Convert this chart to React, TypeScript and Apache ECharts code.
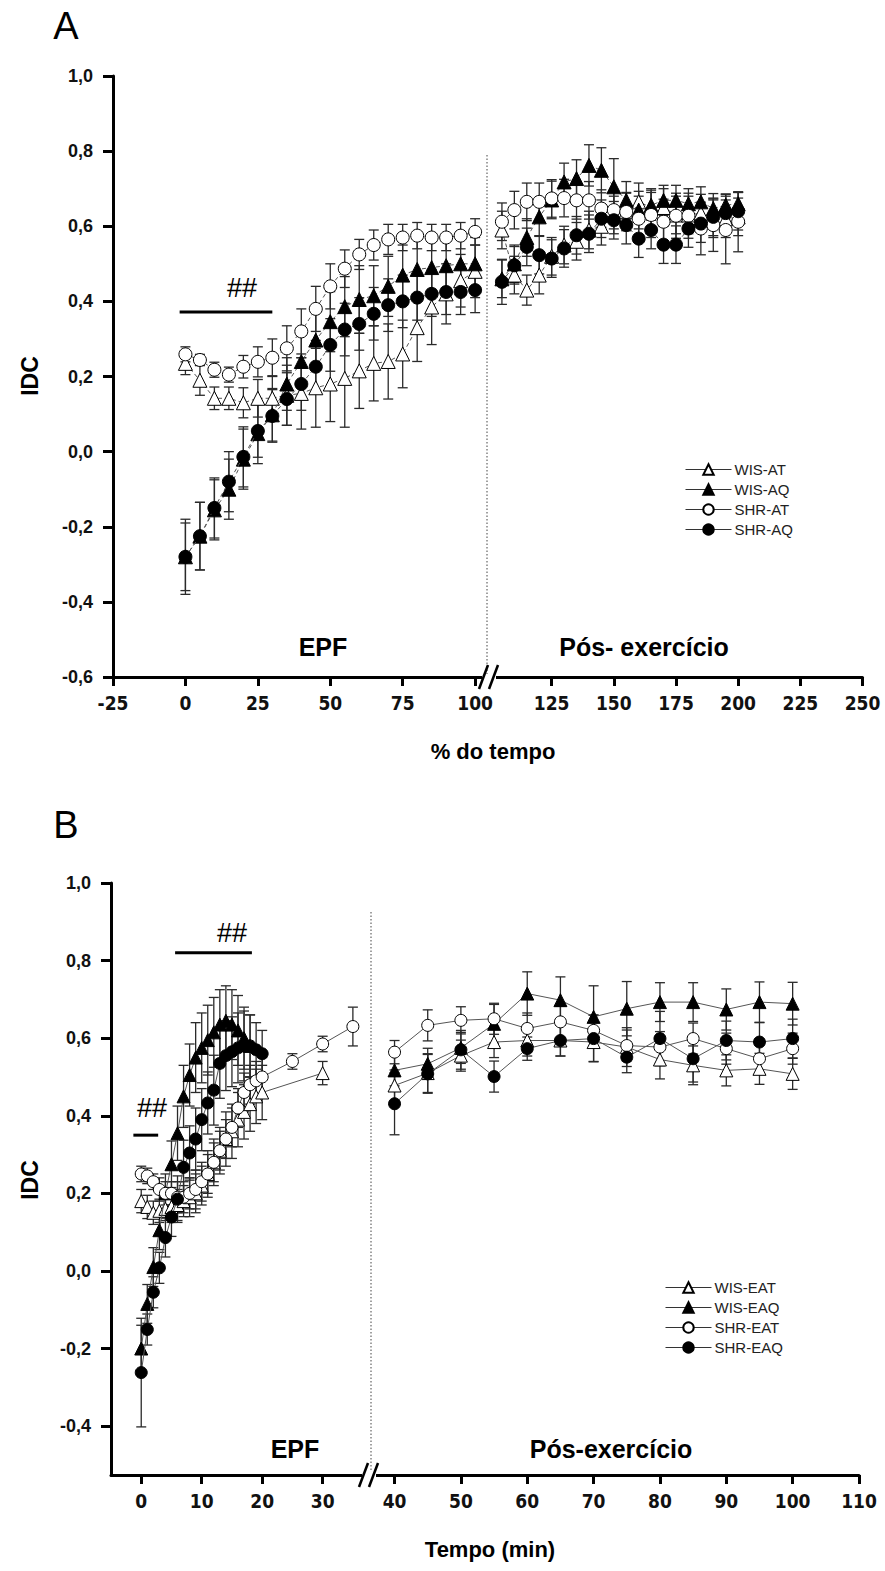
import React, { useEffect, useRef } from 'react';
import * as echarts from 'echarts';

// ---------- Panel A data (% do tempo) ----------
const xA_pre = [0, 5, 10, 15, 20, 25, 30, 35, 40, 45, 50, 55, 60, 65, 70, 75, 80, 85, 90, 95, 100];
const xA_post = [105, 110, 115, 120, 125, 130, 135, 140, 145, 150, 155, 160, 165, 170, 175, 180, 185, 190, 195, 200];

const wisAT_pre = [0.235, 0.19, 0.142, 0.142, 0.13, 0.142, 0.142, 0.15, 0.155, 0.17, 0.18, 0.195, 0.215, 0.235, 0.24, 0.26, 0.33, 0.385, 0.42, 0.455, 0.48];
const wisAT_pre_err = [0.03, 0.04, 0.03, 0.03, 0.04, 0.05, 0.06, 0.08, 0.095, 0.105, 0.1, 0.13, 0.1, 0.1, 0.1, 0.09, 0.09, 0.1, 0.08, 0.07, 0.07];
const wisAQ_pre = [-0.28, -0.225, -0.155, -0.1, -0.02, 0.048, 0.098, 0.18, 0.24, 0.297, 0.346, 0.386, 0.405, 0.415, 0.44, 0.47, 0.485, 0.49, 0.495, 0.5, 0.5];
const wisAQ_pre_err = [0.1, 0.09, 0.08, 0.08, 0.08, 0.08, 0.07, 0.07, 0.07, 0.08, 0.08, 0.08, 0.09, 0.08, 0.08, 0.08, 0.08, 0.07, 0.07, 0.07, 0.07];
const shrAT_pre = [0.259, 0.244, 0.218, 0.205, 0.226, 0.239, 0.25, 0.275, 0.32, 0.38, 0.44, 0.487, 0.525, 0.55, 0.565, 0.57, 0.575, 0.57, 0.57, 0.575, 0.585];
const shrAT_pre_err = [0.02, 0.015, 0.02, 0.02, 0.03, 0.04, 0.05, 0.06, 0.06, 0.06, 0.06, 0.05, 0.04, 0.04, 0.04, 0.035, 0.035, 0.035, 0.035, 0.035, 0.035];
const shrAQ_pre = [-0.28, -0.225, -0.15, -0.08, -0.014, 0.055, 0.095, 0.14, 0.18, 0.226, 0.284, 0.325, 0.34, 0.367, 0.39, 0.4, 0.41, 0.42, 0.425, 0.425, 0.43];
const shrAQ_pre_err = [0.09, 0.09, 0.08, 0.08, 0.08, 0.07, 0.07, 0.07, 0.07, 0.07, 0.07, 0.07, 0.07, 0.07, 0.07, 0.07, 0.06, 0.06, 0.06, 0.06, 0.06];

const wisAT_post = [0.59, 0.47, 0.43, 0.47, 0.52, 0.55, 0.56, 0.59, 0.6, 0.63, 0.64, 0.665, 0.65, 0.65, 0.63, 0.63, 0.635, 0.62, 0.62, 0.625];
const wisAT_post_err = [0.05, 0.05, 0.04, 0.05, 0.05, 0.05, 0.05, 0.05, 0.05, 0.05, 0.05, 0.05, 0.05, 0.05, 0.05, 0.05, 0.05, 0.05, 0.05, 0.05];
const wisAQ_post = [0.46, 0.5, 0.57, 0.625, 0.67, 0.718, 0.727, 0.762, 0.749, 0.705, 0.669, 0.643, 0.656, 0.669, 0.669, 0.66, 0.665, 0.647, 0.656, 0.66];
const wisAQ_post_err = [0.05, 0.05, 0.05, 0.05, 0.05, 0.05, 0.05, 0.055, 0.06, 0.075, 0.05, 0.05, 0.04, 0.04, 0.04, 0.04, 0.04, 0.04, 0.03, 0.03];
const shrAT_post = [0.612, 0.643, 0.665, 0.665, 0.674, 0.675, 0.669, 0.669, 0.647, 0.643, 0.638, 0.62, 0.63, 0.612, 0.628, 0.628, 0.594, 0.603, 0.59, 0.612];
const shrAT_post_err = [0.05, 0.05, 0.05, 0.05, 0.05, 0.05, 0.05, 0.05, 0.05, 0.05, 0.05, 0.06, 0.06, 0.06, 0.06, 0.06, 0.07, 0.07, 0.09, 0.08];
const shrAQ_post = [0.452, 0.496, 0.545, 0.523, 0.514, 0.541, 0.576, 0.58, 0.62, 0.616, 0.603, 0.567, 0.59, 0.551, 0.551, 0.594, 0.607, 0.625, 0.635, 0.64];
const shrAQ_post_err = [0.06, 0.05, 0.05, 0.05, 0.05, 0.05, 0.05, 0.05, 0.05, 0.05, 0.05, 0.05, 0.05, 0.05, 0.05, 0.05, 0.05, 0.05, 0.05, 0.05];

// ---------- Panel B data (Tempo, min) ----------
const xB_wisEAT_pre = [0, 1, 2, 3, 4, 5, 6, 7, 8, 9, 10, 11, 12, 13, 14, 15, 16, 17, 18, 19, 20, 30];
const wisEAT_pre = [0.18, 0.165, 0.15, 0.155, 0.16, 0.165, 0.17, 0.18, 0.19, 0.2, 0.22, 0.25, 0.28, 0.31, 0.34, 0.36, 0.39, 0.41, 0.43, 0.45, 0.46, 0.51];
const wisEAT_pre_err = [0.03, 0.03, 0.03, 0.03, 0.03, 0.04, 0.04, 0.04, 0.05, 0.05, 0.05, 0.06, 0.06, 0.06, 0.07, 0.07, 0.07, 0.07, 0.07, 0.07, 0.07, 0.03];
const xB_wisEAQ_pre = [0, 1, 2, 3, 4, 5, 6, 7, 8, 9, 10, 11, 12, 13, 14, 15, 16, 17, 18];
const wisEAQ_pre = [-0.2, -0.085, 0.01, 0.105, 0.2, 0.275, 0.355, 0.45, 0.505, 0.55, 0.575, 0.595, 0.615, 0.635, 0.645, 0.635, 0.62, 0.6, 0.58];
const wisEAQ_pre_err = [0.06, 0.05, 0.05, 0.05, 0.05, 0.06, 0.07, 0.08, 0.08, 0.09, 0.09, 0.09, 0.09, 0.09, 0.09, 0.09, 0.09, 0.08, 0.08];
const xB_shrEAT_pre = [0, 1, 2, 3, 4, 5, 6, 7, 8, 9, 10, 11, 12, 13, 14, 15, 16, 17, 18, 19, 20, 25, 30, 35];
const shrEAT_pre = [0.25, 0.245, 0.23, 0.21, 0.2, 0.2, 0.19, 0.19, 0.2, 0.21, 0.23, 0.25, 0.28, 0.31, 0.34, 0.37, 0.42, 0.46, 0.48, 0.49, 0.5, 0.54, 0.585, 0.63];
const shrEAT_pre_err = [0.02, 0.02, 0.02, 0.03, 0.03, 0.03, 0.04, 0.04, 0.04, 0.05, 0.05, 0.05, 0.05, 0.05, 0.05, 0.05, 0.05, 0.05, 0.05, 0.05, 0.05, 0.02, 0.02, 0.05];
const xB_shrEAQ_pre = [0, 1, 2, 3, 4, 5, 6, 7, 8, 9, 10, 11, 12, 13, 14, 15, 16, 17, 18, 19, 20];
const shrEAQ_pre = [-0.262, -0.151, -0.055, 0.008, 0.086, 0.139, 0.185, 0.267, 0.304, 0.34, 0.39, 0.433, 0.466, 0.535, 0.555, 0.565, 0.575, 0.58, 0.58, 0.57, 0.56];
const shrEAQ_pre_err = [0.14, 0.04, 0.04, 0.04, 0.05, 0.05, 0.06, 0.07, 0.07, 0.08, 0.08, 0.08, 0.09, 0.09, 0.09, 0.09, 0.09, 0.09, 0.08, 0.07, 0.06];

const xB_post = [40, 45, 50, 55, 60, 65, 70, 75, 80, 85, 90, 95, 100];
const wisEAT_post = [0.478, 0.51, 0.555, 0.59, 0.594, 0.594, 0.59, 0.577, 0.545, 0.53, 0.517, 0.521, 0.508];
const wisEAT_post_err = [0.04, 0.05, 0.04, 0.04, 0.04, 0.04, 0.05, 0.05, 0.05, 0.05, 0.04, 0.04, 0.04];
const wisEAQ_post = [0.517, 0.534, 0.575, 0.637, 0.715, 0.698, 0.655, 0.676, 0.693, 0.693, 0.674, 0.693, 0.689];
const wisEAQ_post_err = [0.04, 0.04, 0.04, 0.05, 0.056, 0.06, 0.08, 0.07, 0.05, 0.05, 0.053, 0.052, 0.055];
const shrEAT_post = [0.564, 0.633, 0.646, 0.65, 0.625, 0.642, 0.62, 0.581, 0.577, 0.599, 0.573, 0.547, 0.573];
const shrEAT_post_err = [0.03, 0.04, 0.035, 0.04, 0.04, 0.04, 0.04, 0.04, 0.04, 0.04, 0.04, 0.04, 0.04];
const shrEAQ_post = [0.431, 0.508, 0.57, 0.501, 0.573, 0.594, 0.599, 0.551, 0.599, 0.547, 0.594, 0.59, 0.599];
const shrEAQ_post_err = [0.08, 0.05, 0.05, 0.04, 0.03, 0.04, 0.06, 0.04, 0.07, 0.06, 0.05, 0.05, 0.05];

// ---------- significance bars (x from, x to, y) ----------
const sigA = [[-2, 0.372], [30, 0.372]];
const sigB1 = [[5.6, 0.82], [18.3, 0.82]];
const sigB2 = [[-1.3, 0.35], [2.8, 0.35]];

// ---------- ticks ----------
const ticksA_pre = [-25, 0, 25, 50, 75, 100];
const ticksA_post = [125, 150, 175, 200, 225, 250];
const ticksA_y = [-0.6, -0.4, -0.2, 0, 0.2, 0.4, 0.6, 0.8, 1.0];
const ticksB_pre = [0, 10, 20, 30];
const ticksB_post = [40, 50, 60, 70, 80, 90, 100, 110];
const ticksB_y = [-0.4, -0.2, 0, 0.2, 0.4, 0.6, 0.8, 1.0];

const SANS = "'Liberation Sans', Arial, Helvetica, sans-serif";
const NARROW = "'Liberation Sans Narrow', 'Arial Narrow', 'DejaVu Sans Condensed', 'Liberation Sans', sans-serif";

const zip = (xs: number[], ys: number[]) => xs.map((x, i) => [x, ys[i]]);
const zip3 = (xs: number[], ys: number[], es: number[]) => xs.map((x, i) => [x, ys[i], es[i]]);
const fmt = (v: number) => (Math.abs(v) < 1e-9 ? 0 : v).toFixed(1).replace('.', ',');

export default function App() {
  const ref = useRef<HTMLDivElement>(null);
  useEffect(() => {
    if (!ref.current) return;
    const chart = echarts.init(ref.current, undefined, { renderer: 'svg' });

    const errRender = (params: any, api: any) => {
      const x = api.value(0), y = api.value(1), e = api.value(2);
      const hi = api.coord([x, y + e]);
      const lo = api.coord([x, y - e]);
      const cap = 5;
      const style = { stroke: '#2a2a2a', lineWidth: 1.3 };
      return {
        type: 'group',
        children: [
          { type: 'line', shape: { x1: hi[0], y1: hi[1], x2: lo[0], y2: lo[1] }, style },
          { type: 'line', shape: { x1: hi[0] - cap, y1: hi[1], x2: hi[0] + cap, y2: hi[1] }, style },
          { type: 'line', shape: { x1: lo[0] - cap, y1: lo[1], x2: lo[0] + cap, y2: lo[1] }, style },
        ],
      };
    };

    const series: any[] = [];
    const addGroup = (name: string, idx: number, data: number[][], err: number[][], symbol: string, filled: boolean, dashed: boolean, z: number, size: number) => {
      series.push({
        type: 'custom', name: name + '_err', xAxisIndex: idx, yAxisIndex: idx,
        renderItem: errRender, data: err, encode: { x: 0, y: 1 }, z: 2, silent: true,
      });
      series.push({
        type: 'line', name, xAxisIndex: idx, yAxisIndex: idx, data,
        symbol, symbolSize: symbol === 'triangle' ? size + 1 : size, showAllSymbol: true,
        lineStyle: { color: '#555', width: 1, type: dashed ? [4, 3] : 'solid' },
        itemStyle: filled ? { color: '#000', borderColor: '#000', borderWidth: 1 } : { color: '#fff', borderColor: '#000', borderWidth: 1 },
        z: z, silent: true,
      });
    };

    // Panel A
    const A = [
      ['WIS-AT', wisAT_pre, wisAT_pre_err, wisAT_post, wisAT_post_err, 'triangle', false],
      ['WIS-AQ', wisAQ_pre, wisAQ_pre_err, wisAQ_post, wisAQ_post_err, 'triangle', true],
      ['SHR-AT', shrAT_pre, shrAT_pre_err, shrAT_post, shrAT_post_err, 'circle', false],
      ['SHR-AQ', shrAQ_pre, shrAQ_pre_err, shrAQ_post, shrAQ_post_err, 'circle', true],
    ] as any[];
    A.forEach((g, k) => {
      addGroup(g[0], 0, zip(xA_pre, g[1]), zip3(xA_pre, g[1], g[2]), g[5], g[6], true, 3 + k, 13);
      addGroup(g[0], 1, zip(xA_post, g[3]), zip3(xA_post, g[3], g[4]), g[5], g[6], true, 3 + k, 13);
    });

    // Panel B
    const B = [
      ['WIS-EAT', xB_wisEAT_pre, wisEAT_pre, wisEAT_pre_err, wisEAT_post, wisEAT_post_err, 'triangle', false],
      ['WIS-EAQ', xB_wisEAQ_pre, wisEAQ_pre, wisEAQ_pre_err, wisEAQ_post, wisEAQ_post_err, 'triangle', true],
      ['SHR-EAT', xB_shrEAT_pre, shrEAT_pre, shrEAT_pre_err, shrEAT_post, shrEAT_post_err, 'circle', false],
      ['SHR-EAQ', xB_shrEAQ_pre, shrEAQ_pre, shrEAQ_pre_err, shrEAQ_post, shrEAQ_post_err, 'circle', true],
    ] as any[];
    B.forEach((g, k) => {
      addGroup(g[0], 2, zip(g[1], g[2]), zip3(g[1], g[2], g[3]), g[6], g[7], false, 3 + k, 12);
      addGroup(g[0], 3, zip(xB_post, g[4]), zip3(xB_post, g[4], g[5]), g[6], g[7], false, 3 + k, 12);
    });

    const sigLine = (idx: number, data: number[][]) => ({
      type: 'line', name: 'sig' + idx + data[0][0], xAxisIndex: idx, yAxisIndex: idx, data,
      symbol: 'none', lineStyle: { color: '#000', width: 3 }, z: 10, silent: true,
    });
    series.push(sigLine(0, sigA), sigLine(2, sigB1), sigLine(2, sigB2));

    const xAxisBase = (min: number, max: number, ticks: number[], idx: number) => ({
      type: 'value', gridIndex: idx, min, max,
      axisLine: { show: true, onZero: false, lineStyle: { color: '#000', width: 3 } },
      axisTick: { show: true, customValues: ticks, length: 9, lineStyle: { color: '#000', width: 3 } },
      axisLabel: {
        show: true, customValues: ticks, margin: 16, color: '#111',
        fontFamily: NARROW, fontWeight: 'bold', fontSize: 19,
      },
      splitLine: { show: false },
    });
    const yAxisMain = (min: number, max: number, ticks: number[], idx: number) => ({
      type: 'value', gridIndex: idx, min, max,
      axisLine: { show: true, onZero: false, lineStyle: { color: '#000', width: 3 } },
      axisTick: { show: true, customValues: ticks, length: 10, lineStyle: { color: '#000', width: 3 } },
      axisLabel: {
        show: true, customValues: ticks, margin: 20, color: '#111',
        fontFamily: SANS, fontWeight: 'bold', fontSize: 18, formatter: fmt,
      },
      splitLine: { show: false },
    });
    const yAxisHidden = (min: number, max: number, idx: number) => ({
      type: 'value', gridIndex: idx, min, max, show: false, axisLine: { onZero: false }, splitLine: { show: false },
    });

    const title = (text: string, x: number, y: number, size: number, weight = 'bold', rot = 0, family = SANS) => ({
      type: 'text', x, y, rotation: rot,
      style: { text, fontSize: size, fontWeight: weight, fontFamily: family, fill: '#000', align: 'center', verticalAlign: 'middle' },
      z: 20,
    });
    const dotted = (x: number, y1: number, y2: number) => ({
      type: 'line', shape: { x1: x, y1, x2: x, y2 }, style: { stroke: '#444', lineWidth: 1, lineDash: [1.5, 2] }, z: 1,
    });
    const brk = (cx: number, cy: number) => [
      { type: 'rect', shape: { x: cx - 8, y: cy - 3, width: 14, height: 6 }, style: { fill: '#fff' }, z: 30 },
      { type: 'line', shape: { x1: cx - 11, y1: cy + 12, x2: cx - 2, y2: cy - 12 }, style: { stroke: '#000', lineWidth: 2.5 }, z: 31 },
      { type: 'line', shape: { x1: cx - 1, y1: cy + 12, x2: cx + 8, y2: cy - 12 }, style: { stroke: '#000', lineWidth: 2.5 }, z: 31 },
    ];

    const legendBase = (names: string[], left: number, top: number) => ({
      data: names, orient: 'vertical', left, top, itemWidth: 46, itemHeight: 13, itemGap: 5,
      selectedMode: false,
      textStyle: { fontFamily: SANS, fontSize: 15, color: '#222', padding: [0, 0, 0, -2] },
      lineStyle: { type: 'solid', color: '#333', width: 1 },
    });

    const option: any = {
      animation: false,
      backgroundColor: '#fff',
      grid: [
        { left: 113, top: 76, width: 374, height: 601 },
        { left: 487, top: 76, width: 375.5, height: 601 },
        { left: 111, top: 883, width: 257, height: 592 },
        { left: 368, top: 883, width: 491, height: 592 },
      ],
      xAxis: [
        xAxisBase(-25, 104.1, ticksA_pre, 0),
        xAxisBase(99, 250, ticksA_post, 1),
        xAxisBase(-5, 37.5, ticksB_pre, 2),
        xAxisBase(36, 110, ticksB_post, 3),
      ],
      yAxis: [
        yAxisMain(-0.6, 1.0, ticksA_y, 0),
        yAxisHidden(-0.6, 1.0, 1),
        yAxisMain(-0.526, 1.0, ticksB_y, 2),
        yAxisHidden(-0.526, 1.0, 3),
      ],
      legend: [
        legendBase(['WIS-AT', 'WIS-AQ', 'SHR-AT', 'SHR-AQ'], 680, 457),
        legendBase(['WIS-EAT', 'WIS-EAQ', 'SHR-EAT', 'SHR-EAQ'], 660, 1275),
      ],
      series,
      graphic: [
        title('A', 66, 26, 38, 'normal'),
        title('B', 66, 825, 38, 'normal'),
        title('IDC', 30, 376, 23, 'bold', Math.PI / 2),
        title('IDC', 30, 1180, 23, 'bold', Math.PI / 2),
        title('EPF', 323, 647, 25),
        title('Pós- exercício', 644, 647, 25),
        title('EPF', 295, 1449, 25),
        title('Pós-exercício', 611, 1449, 25),
        title('% do tempo', 493, 751, 22),
        title('Tempo (min)', 490, 1549, 22),
        title('##', 242, 288, 27, 'normal'),
        title('##', 232, 933, 27, 'normal'),
        title('##', 152, 1108, 27, 'normal'),
        dotted(487, 155, 677),
        dotted(371, 912, 1475),
        ...brk(490, 677),
        ...brk(370, 1475),
      ],
    };
    chart.setOption(option);
    return () => chart.dispose();
  }, []);
  return <div ref={ref} style={{ position: 'absolute', left: 0, top: 0, width: 885, height: 1571, background: '#fff' }} />;
}
